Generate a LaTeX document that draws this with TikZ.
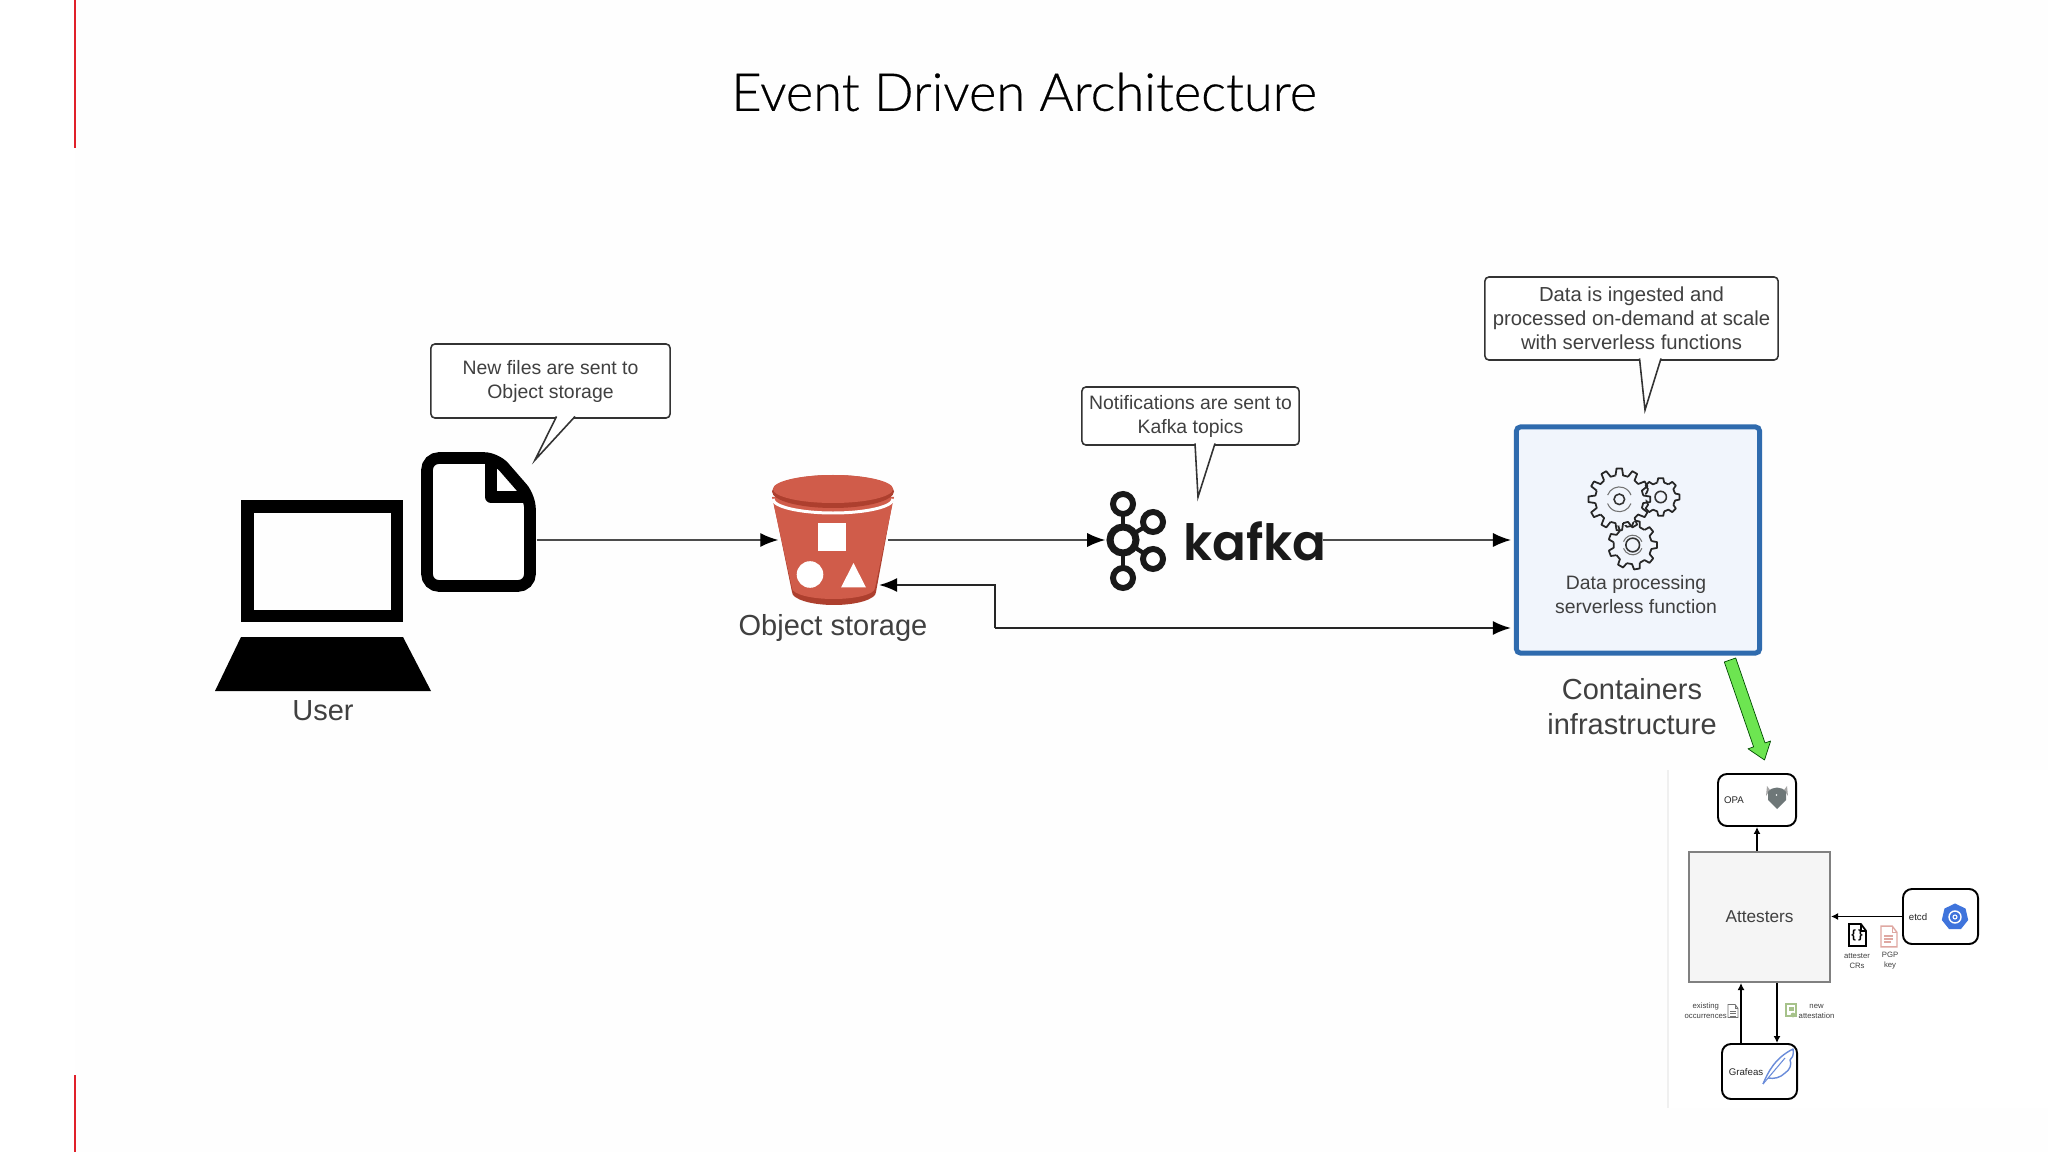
\documentclass[tikz,border=0pt]{standalone}
\usepackage{fontspec}
\setmainfont{Liberation Sans}
\newfontfamily\titlefont{Lato Light}[AutoFakeBold=0.4]
\newfontfamily\kafkafont{Poppins SemiBold}
\usetikzlibrary{arrows.meta,shapes.geometric}

\definecolor{slidered}{HTML}{E0202A}
\definecolor{textgrey}{HTML}{404040}
\definecolor{bucketred}{HTML}{D05C4A}
\definecolor{bucketdark}{HTML}{AD3F2E}
\definecolor{boxblue}{HTML}{2F6BAE}
\definecolor{boxfill}{HTML}{F1F5FC}
\definecolor{arrowgreen}{HTML}{6DE551}
\definecolor{k8sblue}{HTML}{3F74DC}
\definecolor{featherblue}{HTML}{6A8CDA}
\definecolor{pgpred}{HTML}{DFA8A2}
\definecolor{certgreen}{HTML}{A6C28A}
\definecolor{opagrey}{HTML}{6E7778}

\tikzset{
    label big/.style={text=textgrey, align=center, font=\fontsize{8.25}{9.96}\selectfont},
    label mid/.style={text=textgrey, align=center, font=\fontsize{5.52}{6.83}\selectfont},
    label tiny/.style={text=textgrey, align=center, font=\fontsize{2.2}{2.85}\selectfont, inner sep=0pt},
    label box/.style={text=black!85, font=\fontsize{2.75}{3.3}\selectfont, inner sep=0pt},
    bubble/.style={draw=black!80, line width=0.45pt, fill=white, rounded corners=0.04cm, inner sep=0pt, label mid},
    icon/.style={draw=none, inner sep=0pt},
    small box/.style={draw=black, line width=0.55pt, rounded corners=0.09cm, fill=white, inner sep=0pt},
    flow/.style={draw=black!70, line width=0.4pt, -{Latex[black,length=0.18cm,width=0.14cm]}},
    flow dark/.style={draw=black!85, line width=0.6pt, -{Latex[black,length=0.18cm,width=0.14cm]}},
    small flow/.style={draw=black, line width=0.5pt, -{Latex[length=0.07cm,width=0.07cm]}},
    pics/gear/.style n args={2}{code={
        \pgfmathsetmacro\gearstep{360/#1}
        \pgfmathsetmacro\tiptip{0.17*\gearstep}
        \pgfmathsetmacro\tiproot{0.3*\gearstep}
        \pgfmathsetmacro\rootend{\gearstep-\tiproot}
        \fill[boxfill] (0,0) circle (0.85);
        \foreach \n in {1,...,#1}
            \draw[black!85, line width=0.5pt, line join=round, rotate=\n*\gearstep] (-\tiproot:0.78) -- (-\tiptip:1) -- (\tiptip:1) -- (\tiproot:0.78) arc (\tiproot:\rootend:0.78);
        \draw[black!80, line width=0.45pt] (0,0) circle (#2);
    }},
    gear arcs/.pic={
        \draw[black!55, line width=0.3pt] (20:0.4) arc (20:160:0.4);
        \draw[black!55, line width=0.3pt] (200:0.4) arc (200:340:0.4);
    },
    doc/.pic={
        \path[pic actions] (-0.5,-0.65) -- (0.2,-0.65) -- (0.5,-0.25) -- (0.5,0.65) -- (-0.5,0.65) -- cycle;
        \path[pic actions, fill=none] (0.2,-0.65) -- (0.2,-0.25) -- (0.5,-0.25);
    }
}

\begin{document}
\begin{tikzpicture}[x=0.01cm, y=-0.01cm]
    \useasboundingbox (0,0) rectangle (2048,1152);

    % Slide
    \fill[black!0.5] (75,0) rectangle (2048,1152);
    \draw[slidered, line width=0.6pt] (75,0) -- (75,148);
    \draw[slidered, line width=0.6pt] (75,1075) -- (75,1152);
    \node[inner sep=0pt, text=black, font=\titlefont\bfseries\fontsize{14.9}{17}\selectfont] (title) at (1024,92) {Event Driven Architecture};

    % User
    \node[icon, minimum width=2.16cm, minimum height=1.91cm] (laptop) at (323,595.5) {};
    \draw[black, line width=3.6pt] (247.5,506.5) rectangle (397,616);
    \fill[black] (241,637) -- (403,637) -- (431,691) -- (215,691) -- cycle;
    \node[label big, inner sep=0pt] (user) at (323,711) {User};

    % File
    \node[icon, minimum width=1.15cm, minimum height=1.40cm] (file) at (478.5,522) {};
    \draw[black, line width=3.3pt, rounded corners=0.12cm, fill=white] (427,458) -- (496,458) -- (530,497) -- (530,586) -- (427,586) -- cycle;
    \draw[black, line width=3.3pt, line join=round] (491,460) -- (491,497) -- (528,497);

    % Bucket
    \node[icon, minimum width=1.08cm, minimum height=1.30cm] (bucket) at (833,540) {};
    \fill[bucketdark] (774,505) -- (792,592) arc (180:0:42 and 13) -- (892,505) -- cycle;
    \fill[bucketred] (772,497) -- (792,588) arc (180:0:41.5 and 11) -- (894,497) -- cycle;
    \draw[white, line width=0.85pt] (773,499) arc (180:0:60 and 14);
    \fill[bucketdark] (833,491.5) ellipse (61 and 16.5);
    \fill[bucketred] (833,489) ellipse (60 and 14);
    \fill[white] (818,523) rectangle (846,551);
    \fill[white] (810,574.5) circle (13.3);
    \fill[white] (853.5,563) -- (866,587.5) -- (841,587.5) -- cycle;
    \node[label big, inner sep=0pt] (storage) at (833,628) {Object storage};

    % Kafka
    \node[icon, minimum width=2.16cm, minimum height=1.00cm] (kafka) at (1214,540) {};
    \draw[black!90, line width=1.2pt] (1123,504) -- (1123,578);
    \draw[black!90, line width=1.2pt] (1153,522) -- (1123,540) -- (1153,559);
    \foreach \cx/\cy in {1123/504, 1153/522, 1153/559, 1123/578}
        \draw[black!90, line width=1.7pt, fill=white] (\cx,\cy) circle (10);
    \draw[black!90, line width=2pt, fill=white] (1123,540) circle (13);
    \node[inner sep=0pt, text=black!90, font=\kafkafont\fontsize{14.2}{16}\selectfont] (kafkatext) at (1255,541) {kafka};

    % Serverless function
    \node[draw=boxblue, fill=boxfill, line width=1.4pt, rounded corners=0.04cm, minimum width=2.43cm, minimum height=2.26cm, inner sep=0pt] (function) at (1638,540) {};
    \pic[scale=24.5] at (1632.7,545) {gear={9}{0.28}};
    \pic[scale=24.5] at (1632.7,545) {gear arcs};
    \pic[scale=19] at (1660.7,497) {gear={8}{0.3}};
    \pic[scale=31] at (1619.3,499.3) {gear={12}{0.17}};
    \pic[scale=31] at (1619.3,499.3) {gear arcs};
    \node[label mid, inner sep=0pt] (functiontext) at (1636,595) {Data processing\\serverless function};
    \node[label big, inner sep=0pt] (containers) at (1632,706.5) {Containers\\infrastructure};

    % Callouts
    \node[bubble, minimum width=2.39cm, minimum height=0.74cm] (tip1) at (550.5,381) {New files are sent to\\Object storage};
    \draw[black!80, line width=0.45pt, fill=white] (556.5,416.5) -- (535,460) -- (575,416.5);
    \node[bubble, minimum width=2.17cm, minimum height=0.58cm] (tip2) at (1190.5,416) {Notifications are sent to\\Kafka topics};
    \draw[black!80, line width=0.45pt, fill=white] (1195,443.5) -- (1198,497) -- (1215,443.5);
    \node[bubble, minimum width=2.93cm, minimum height=0.83cm, font=\fontsize{5.77}{6.83}\selectfont] (tip3) at (1631.5,318.5) {Data is ingested and\\processed on-demand at scale\\with serverless functions};
    \draw[black!80, line width=0.45pt, fill=white] (1639.5,358.5) -- (1645,410) -- (1661,358.5);

    % Connections
    \draw[flow] (file.east |- bucket.west) -- (bucket.west);
    \draw[flow] (bucket.east) -- (kafka.west);
    \draw[flow, shorten >=0.03cm] (kafka.east) -- (function.west);
    \coordinate (split) at (995,628);
    \coordinate (bucketback) at (879,585);
    \draw[flow dark, shorten >=0.03cm] (split) -- (function.west |- split);
    \draw[flow dark] (split) |- (bucketback);

    % Step to the attesters
    \draw[draw=black!50!green!60!black, line width=0.2pt, fill=arrowgreen, line join=round] (1735.7,658) -- (1765,742.9) -- (1770.6,741) -- (1764.5,760) -- (1748,748.8) -- (1753.6,746.9) -- (1724.3,662) -- cycle;

    % Attesters part
    \fill[white] (1668,770) rectangle (2048,1108);
    \draw[black!6, line width=0.3pt] (1668,770) -- (1668,1108);
    \node[draw=black!50, fill=black!4, line width=0.55pt, minimum width=1.41cm, minimum height=1.30cm, inner sep=0pt, text=textgrey, text depth=0pt, font=\fontsize{4.9}{6}\selectfont] (attesters) at (1759.5,917) {Attesters};
    \node[small box, minimum width=0.78cm, minimum height=0.52cm] (opa) at (1757,800) {};
    \node[label box] (opatext) at (1734,800) {OPA};
    \node[small box, minimum width=0.75cm, minimum height=0.55cm] (etcd) at (1940.5,916.5) {};
    \node[label box] (etcdtext) at (1918,917) {etcd};
    \node[small box, minimum width=0.75cm, minimum height=0.55cm] (grafeas) at (1759.5,1071.5) {};
    \node[label box] (grafeastext) at (1746,1072) {Grafeas};

    % OPA logo
    \fill[black!35] (1767,786) -- (1766,796) -- (1770,790) -- cycle;
    \fill[black!35] (1787,786) -- (1788,796) -- (1784,790) -- cycle;
    \fill[opagrey] (1768,792) .. controls (1772,786) and (1782,786) .. (1786,792) -- (1786,800) -- (1777,809) -- (1768,800) -- cycle;
    \fill[white] (1776.5,795) circle (0.8);

    % Kubernetes logo
    \node[regular polygon, regular polygon sides=7, fill=k8sblue, minimum size=0.27cm, inner sep=0pt] (k8s) at (1955,917) {};
    \draw[white, line width=0.4pt] (k8s.center) circle (6);
    \draw[white, line width=0.3pt] (k8s.center) circle (2);

    % Feather
    \draw[featherblue, line width=0.4pt, line join=round] (1763,1084) .. controls (1768,1072) and (1775,1058) .. (1793,1049) .. controls (1794,1056) and (1792,1058) .. (1790,1060) .. controls (1792,1064) and (1790,1070) .. (1785,1073) .. controls (1780,1078) and (1774,1079) .. (1768,1078);
    \draw[featherblue, line width=0.3pt] (1763,1084) -- (1785,1058);

    % Payload icons
    \pic[draw=black, line width=0.5pt, fill=white, scale=17] at (1857.5,935) {doc};
    \node[inner sep=0pt, font=\bfseries\fontsize{3.4}{4}\selectfont] (crstext) at (1857,935) {\{\,\}};
    \node[label tiny] (crs) at (1857,961) {attester\\CRs};
    \pic[draw=pgpred, line width=0.4pt, fill=white, scale=16] at (1889,936.5) {doc};
    \draw[pgpred, line width=0.35pt] (1884,936) -- (1893,936) (1884,939) -- (1893,939) (1884,942) -- (1891,942);
    \node[label tiny] (pgp) at (1890,961) {PGP\\key};
    \pic[draw=black!55, line width=0.25pt, fill=white, scale=10] at (1733,1011) {doc};
    \draw[black!55, line width=0.2pt] (1730,1011) -- (1736,1011) (1730,1013.5) -- (1736,1013.5) (1730,1016) -- (1736,1016);
    \node[label tiny, anchor=east] (occurrences) at (1727.5,1011) {existing\\occurrences};
    \draw[certgreen, line width=0.45pt] (1786,1004) rectangle (1796,1016);
    \fill[certgreen] (1793,1015) circle (2.4);
    \fill[certgreen] (1788.5,1007) rectangle (1793.5,1011);
    \node[label tiny, anchor=west] (attestation) at (1798,1011) {new\\attestation};

    % Attesters connections
    \draw[small flow] (attesters.north -| opa.south) -- (opa.south);
    \draw[small flow] (etcd.west) -- (attesters.east |- etcd.west);
    \draw[small flow] (grafeas.north -| 1741,0) -- (attesters.south -| 1741,0);
    \draw[small flow] (attesters.south -| 1777,0) -- (grafeas.north -| 1777,0);

\end{tikzpicture}
\end{document}
